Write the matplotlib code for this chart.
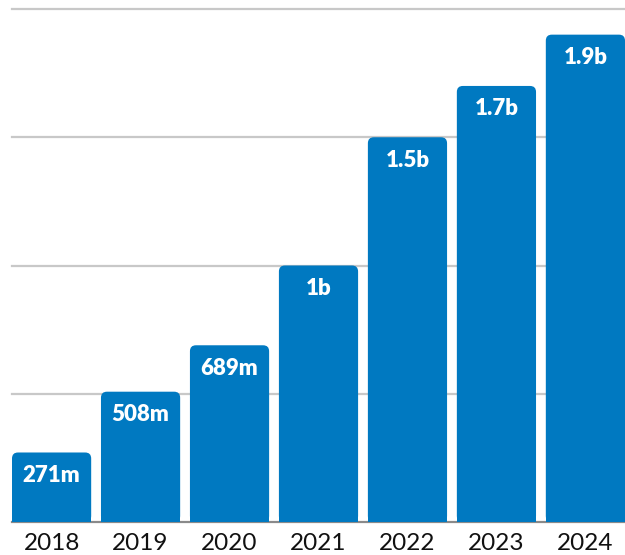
import matplotlib
matplotlib.use("Agg")
import matplotlib.pyplot as plt
from matplotlib.patches import FancyBboxPatch, Rectangle

years = ["2018", "2019", "2020", "2021", "2022", "2023", "2024"]
values = [0.271, 0.508, 0.689, 1.0, 1.5, 1.7, 1.9]
labels = ["271m", "508m", "689m", "1b", "1.5b", "1.7b", "1.9b"]
grid_vals = [0.5, 1.0, 1.5, 2.0]

W, H = 625, 555
fig = plt.figure(figsize=(W / 100, H / 100), dpi=100)
ax = fig.add_axes([12 / W, 33 / H, (625 - 12) / W, (522 - 9) / H])

bw = 0.89
ax.set_xlim(-bw / 2, len(years) - 1 + bw / 2)
ax.set_ylim(0, 2.0)
for s in ax.spines.values():
    s.set_visible(False)
ax.set_yticks([])
ax.set_xticks(range(len(years)))
ax.set_xticklabels(years, fontsize=17.5, family="Lato", color="#111111")
ax.tick_params(axis="x", length=0, pad=8)

for g in grid_vals:
    ax.axhline(g, color="#c8c8c8", lw=1.6, zorder=0, clip_on=False)
ax.axhline(0, color="#8a8a8a", lw=1.6, zorder=0, clip_on=False)

color = "#0079C1"
xpx = ax.transData.transform((1, 0))[0] - ax.transData.transform((0, 0))[0]
ypx = ax.transData.transform((0, 1))[1] - ax.transData.transform((0, 0))[1]
r_px = 6
rx = r_px / xpx
aspect = (1 / ypx) / (1 / xpx)

bars = ax.bar(range(len(years)), values, width=bw, color="none", edgecolor="none")
for i, (b, v, lab) in enumerate(zip(bars, values, labels)):
    x0 = b.get_x()
    p = FancyBboxPatch((x0, 0), bw, v,
                       boxstyle=f"round,pad=0,rounding_size={rx}",
                       mutation_aspect=aspect, fc=color, ec="none", zorder=2)
    ax.add_patch(p)
    ax.add_patch(Rectangle((x0, 0), bw, v / 2, fc=color, ec="none", zorder=2))
    ax.text(i, v - 23 / ypx, lab, ha="center", va="center", color="white",
            fontsize=16, fontweight="heavy", family="Lato", zorder=3)

fig.savefig("out.png", dpi=100)
